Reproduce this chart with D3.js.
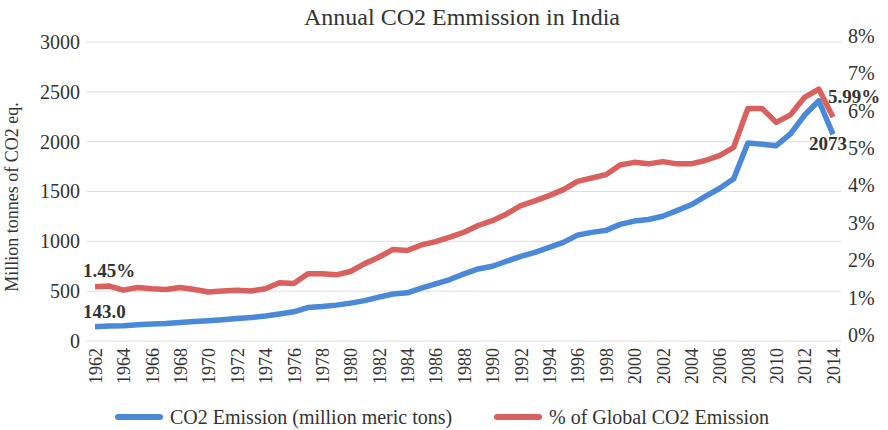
<!DOCTYPE html>
<html>
<head>
<meta charset="utf-8">
<style>
  body { margin: 0; background: #fff; }
</style>
<script src="https://d3js.org/d3.v7.min.js"></script>
</head>
<body>
<svg id="chart" width="888" height="430"></svg>
<script>
// data
const years = d3.range(1962, 2015);
const co2 = [143, 150, 153, 163, 170, 176, 186, 196, 203, 213,
  226, 236, 250, 270, 293, 336, 346, 360, 380, 405,
  440, 472, 483, 530, 573, 617, 673, 723, 750, 800,
  850, 890, 940, 990, 1062, 1090, 1110, 1170, 1203, 1219,
  1252, 1308, 1367, 1450, 1530, 1627, 1987, 1975, 1960, 2077,
  2267, 2410, 2073];
const share = [1.45, 1.47, 1.36, 1.43, 1.40, 1.38, 1.43, 1.38, 1.31, 1.34,
  1.36, 1.34, 1.40, 1.56, 1.54, 1.80, 1.80, 1.77, 1.86, 2.07,
  2.24, 2.45, 2.42, 2.57, 2.66, 2.78, 2.91, 3.09, 3.22, 3.40,
  3.62, 3.75, 3.89, 4.05, 4.27, 4.36, 4.45, 4.71, 4.78, 4.74,
  4.80, 4.74, 4.74, 4.83, 4.96, 5.18, 6.22, 6.22, 5.85, 6.05,
  6.52, 6.74, 5.99];
const leftTicks = [0, 500, 1000, 1500, 2000, 2500, 3000];
const rightTicks = [0, 1, 2, 3, 4, 5, 6, 7, 8];
const xTicks = d3.range(1962, 2015, 2);
const seriesNames = ["CO2 Emission (million meric tons)", "% of Global CO2 Emission"];
const colors = ["#4a88d8", "#d9605d"];

const FONT = "'Liberation Serif', 'Times New Roman', serif";

const svg = d3.select("#chart")
  .attr("font-family", FONT)
  .style("font-family", FONT);

const x = d3.scaleLinear().domain([1962, 2014]).range([95, 833]);
const yL = d3.scaleLinear().domain([0, 3000]).range([341, 42]);
const yR = d3.scaleLinear().domain([0, 8]).range([341, 42]);

// title
svg.append("text")
  .attr("x", 462).attr("y", 25)
  .attr("text-anchor", "middle")
  .attr("fill", "#333")
  .style("font-size", "24px")
  .text("Annual CO2 Emmission in India");

// gridlines
svg.append("g").selectAll("line")
  .data(leftTicks)
  .join("line")
  .attr("x1", 87).attr("x2", 841)
  .attr("y1", d => yL(d)).attr("y2", d => yL(d))
  .attr("stroke", "#dedede").attr("stroke-width", 1);

function styleAxis(g, size) {
  g.attr("font-family", FONT);
  g.select(".domain").remove();
  g.selectAll("text")
    .attr("fill", "#333")
    .style("font-family", FONT)
    .style("font-size", size);
}

// left axis
svg.append("g")
  .attr("transform", "translate(80,0)")
  .call(d3.axisLeft(yL).tickValues(leftTicks).tickSize(0).tickPadding(0)
    .tickFormat(d3.format("d")))
  .call(g => styleAxis(g, "20px"));

// right axis (labels sit slightly above gridlines in the original)
svg.append("g")
  .attr("transform", "translate(848,-6)")
  .call(d3.axisRight(yR).tickValues(rightTicks).tickSize(0).tickPadding(0)
    .tickFormat(d => d + "%"))
  .call(g => styleAxis(g, "20px"));

// x axis, rotated year labels
const xAxis = svg.append("g")
  .attr("transform", "translate(0,341)")
  .call(d3.axisBottom(x).tickValues(xTicks).tickSize(0).tickFormat(d3.format("d")))
  .call(g => styleAxis(g, "18px"));
xAxis.selectAll("text")
  .attr("transform", "rotate(-90)")
  .attr("text-anchor", "end")
  .attr("x", -7).attr("y", 0).attr("dy", "0.35em");

// y axis title
svg.append("text")
  .attr("transform", "translate(18,197) rotate(-90)")
  .attr("text-anchor", "middle")
  .attr("fill", "#333")
  .style("font-size", "18px")
  .text("Million tonnes of CO2 eq.");

// lines
const lineL = d3.line().x((d, i) => x(years[i])).y(d => yL(d));
const lineR = d3.line().x((d, i) => x(years[i])).y(d => yR(d));

svg.append("path")
  .datum(share)
  .attr("d", lineR)
  .attr("fill", "none")
  .attr("stroke", colors[1])
  .attr("stroke-width", 5.5)
  .attr("stroke-linejoin", "round");

svg.append("path")
  .datum(co2)
  .attr("d", lineL)
  .attr("fill", "none")
  .attr("stroke", colors[0])
  .attr("stroke-width", 5.5)
  .attr("stroke-linejoin", "round");

// data labels
const last = years.length - 1;
const labels = [
  { t: d3.format(".2f")(share[0]) + "%", x: x(years[0]) - 12, y: yR(share[0]) - 10, a: "start" },
  { t: d3.format(".1f")(co2[0]), x: x(years[0]) - 12, y: yL(co2[0]) - 9, a: "start" },
  { t: d3.format(".2f")(share[last]) + "%", x: x(years[last]) - 5, y: yR(share[last]) - 14, a: "start" },
  { t: String(co2[last]), x: x(years[last]) + 14, y: yL(co2[last]) + 16, a: "end" }
];
svg.append("g").selectAll("text")
  .data(labels)
  .join("text")
  .attr("x", d => d.x).attr("y", d => d.y)
  .attr("text-anchor", d => d.a)
  .attr("fill", "#333")
  .style("font-size", "19px")
  .style("font-weight", "bold")
  .text(d => d.t);

// legend
const legend = svg.append("g").attr("transform", "translate(0,417)");
const legX = [118, 497];
seriesNames.forEach((name, i) => {
  legend.append("line")
    .attr("x1", legX[i]).attr("x2", legX[i] + 42)
    .attr("y1", 0).attr("y2", 0)
    .attr("stroke", colors[i]).attr("stroke-width", 6)
    .attr("stroke-linecap", "round");
  legend.append("text")
    .attr("x", legX[i] + 52).attr("y", 0).attr("dy", "0.35em")
    .attr("fill", "#333")
    .style("font-size", "20px")
    .text(name);
});
</script>
</body>
</html>
